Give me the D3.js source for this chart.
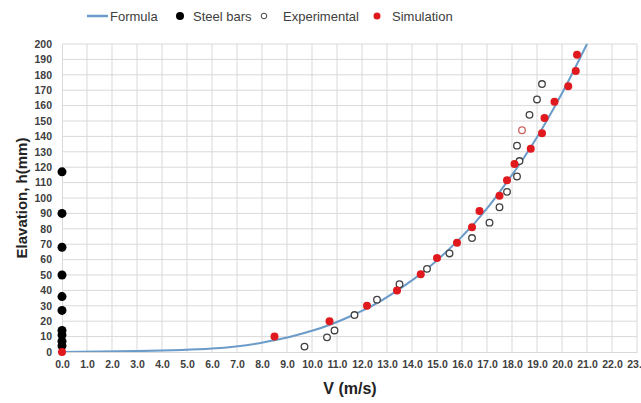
<!DOCTYPE html>
<html>
<head>
<meta charset="UTF-8">
<script src="https://cdn.jsdelivr.net/npm/d3@7"></script>
<style>
  body { margin: 0; background: #fff; }
  text { font-family: "Liberation Sans", Arial, sans-serif; }
</style>
</head>
<body>
<svg width="641" height="403"></svg>
<script>
// data: [V (m/s), h (mm)]
var formula = [[0,0],[3,0.6],[6,2.2],[8.5,7.7],[10,13.8],[12,26.7],[14,46.5],[16,75],[18,115],[19,139.5],[20,168],[21,200]];
var steelBars = [[0,117],[0,90],[0,68],[0,50],[0,36],[0,27],[0,14],[0,11],[0,7],[0,4]];
var experimental = [[9.7,3.5],[10.6,9.5],[10.9,14],[11.7,24],[12.6,34],[13.5,44],[14.6,54],[15.5,64],[16.4,74],
  [17.1,84],[17.5,94],[17.8,104],[18.2,114],[18.3,124],[18.2,134],[18.4,144],[18.7,154],[19.0,164],[19.2,174]];
var simulation = [[0,0],[8.5,10],[10.7,20],[12.2,30],[13.4,40],[14.35,50.5],[15.0,61],[15.8,71],[16.4,81],[16.7,91.5],
  [17.5,101.5],[17.8,111.5],[18.1,122],[18.75,132],[19.2,142],[19.3,152],[19.7,162.5],[20.25,172.5],[20.55,182.5],[20.6,193]];
var xTicks = d3.range(0, 24, 1);
var yTicks = d3.range(0, 210, 10);
var oddPoint = 15; // experimental point drawn in a reddish outline

var svg = d3.select("svg");
var m = {left: 62, right: 637, top: 44, bottom: 352};

var x = d3.scaleLinear().domain([0, 23]).range([m.left, m.right]);
var y = d3.scaleLinear().domain([0, 200]).range([m.bottom, m.top]);

svg.append("defs").append("clipPath").attr("id", "clip")
  .append("rect").attr("x", m.left).attr("y", m.top - 2)
  .attr("width", m.right - m.left).attr("height", m.bottom - m.top + 2);

// grid
svg.append("g").selectAll("line").data(xTicks.slice(1)).enter().append("line")
  .attr("x1", d => x(d)).attr("x2", d => x(d))
  .attr("y1", m.top).attr("y2", m.bottom)
  .attr("stroke", "#d9d9d9").attr("stroke-width", 1);
svg.append("g").selectAll("line").data(yTicks.slice(1)).enter().append("line")
  .attr("x1", m.left).attr("x2", m.right)
  .attr("y1", d => y(d)).attr("y2", d => y(d))
  .attr("stroke", "#d9d9d9").attr("stroke-width", 1);

// axes
var xAxis = svg.append("g").attr("transform", "translate(0," + m.bottom + ")")
  .call(d3.axisBottom(x).tickValues(xTicks).tickFormat(d3.format(".1f")).tickSize(0).tickPadding(9));
var yAxis = svg.append("g").attr("transform", "translate(" + m.left + ",0)")
  .call(d3.axisLeft(y).tickValues(yTicks).tickSize(0).tickPadding(10));
[xAxis, yAxis].forEach(function(a) {
  a.select(".domain").attr("stroke", "#d9d9d9");
  a.selectAll("text").attr("font-size", 10.5).attr("font-weight", "bold")
    .attr("fill", "#404040").style("font-family", "Liberation Sans, Arial, sans-serif");
});

// axis titles
svg.append("text").attr("x", 350).attr("y", 394).attr("text-anchor", "middle")
  .attr("font-size", 16).attr("font-weight", "bold").attr("fill", "#222")
  .text("V (m/s)");
svg.append("text").attr("transform", "translate(27,198) rotate(-90)").attr("text-anchor", "middle")
  .attr("font-size", 15).attr("font-weight", "bold").attr("fill", "#222")
  .text("Elavation, h(mm)");

// formula line
var line = d3.line().x(d => x(d[0])).y(d => y(d[1])).curve(d3.curveMonotoneY);
svg.append("path").datum(formula).attr("d", line)
  .attr("clip-path", "url(#clip)")
  .attr("fill", "none").attr("stroke", "#6a9bc9").attr("stroke-width", 2);

// steel bars
svg.append("g").selectAll("circle").data(steelBars).enter().append("circle")
  .attr("cx", d => x(d[0])).attr("cy", d => y(d[1])).attr("r", 4.5).attr("fill", "#000");

// experimental
svg.append("g").selectAll("circle").data(experimental).enter().append("circle")
  .attr("cx", d => x(d[0])).attr("cy", d => y(d[1])).attr("r", 3.3)
  .attr("fill", "#fff").attr("stroke", (d, i) => i === oddPoint ? "#d06060" : "#404040").attr("stroke-width", 1.3);

// simulation
svg.append("g").selectAll("circle").data(simulation).enter().append("circle")
  .attr("cx", d => x(d[0])).attr("cy", d => y(d[1])).attr("r", 4)
  .attr("fill", "#e0191e");

// legend
var lg = svg.append("g").attr("font-size", 13).attr("fill", "#404040");
lg.append("line").attr("x1", 87).attr("x2", 108).attr("y1", 16).attr("y2", 16)
  .attr("stroke", "#6a9bc9").attr("stroke-width", 2.5);
lg.append("text").attr("x", 110).attr("y", 20.5).text("Formula");
lg.append("circle").attr("cx", 180).attr("cy", 16).attr("r", 4).attr("fill", "#000");
lg.append("text").attr("x", 193).attr("y", 20.5).text("Steel bars");
lg.append("circle").attr("cx", 264).attr("cy", 16).attr("r", 2.8).attr("fill", "#fff")
  .attr("stroke", "#404040").attr("stroke-width", 1);
lg.append("text").attr("x", 283).attr("y", 20.5).text("Experimental");
lg.append("circle").attr("cx", 377).attr("cy", 16).attr("r", 3.5).attr("fill", "#e0191e");
lg.append("text").attr("x", 392).attr("y", 20.5).text("Simulation");
</script>
</body>
</html>
